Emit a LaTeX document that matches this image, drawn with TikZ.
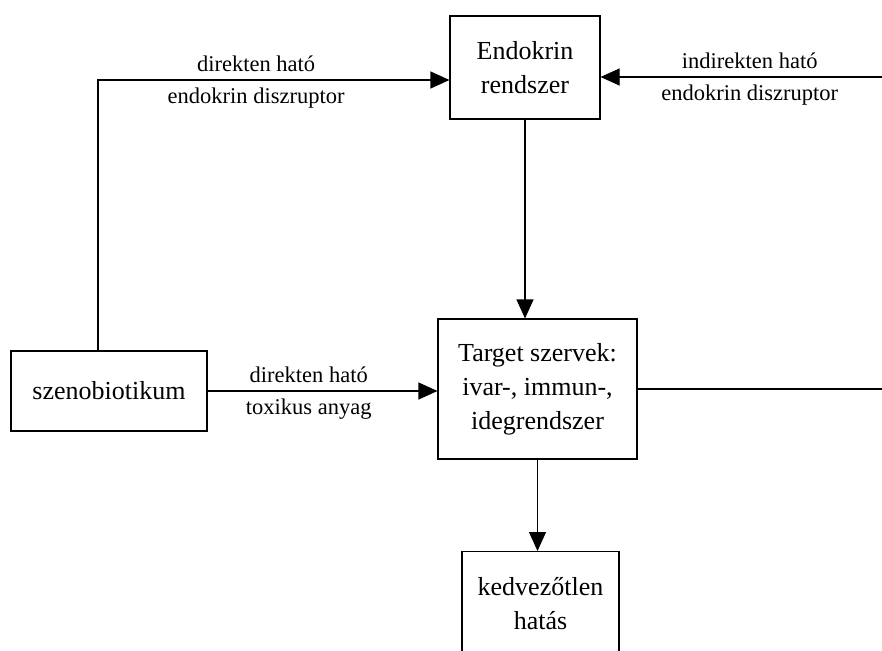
\documentclass[tikz,border=0pt]{standalone}
\usepackage{fontspec}
\setmainfont{Liberation Serif}
\usetikzlibrary{arrows.meta}
\begin{document}
\begin{tikzpicture}[x=1pt,y=-1pt,line width=1.1pt,
	box/.style={draw,align=center,inner sep=0pt,font=\fontsize{26}{34}\selectfont},
	lbl/.style={font=\fontsize{22.5}{26}\selectfont},
	arr/.style={-{Triangle[length=19pt,width=17pt]}}]
	\clip (0,0) rectangle (882,650);
	\node[box,minimum width=150pt,minimum height=103pt] (endo) at (525,67.5) {Endokrin\\rendszer};
	\node[box,minimum width=196pt,minimum height=80pt] (szeno) at (109,391) {szenobiotikum};
	\node[box,minimum width=199pt,minimum height=140pt] (target) at (537.5,389) {Target szervek:\\ivar-, immun-,\\idegrendszer};
	\node[box,minimum width=157pt,minimum height=104pt,anchor=north] (kedv) at (540.5,551) {kedvezőtlen\\hatás};
	\coordinate (bend) at (98,80);
	\coordinate (rin) at (882,77);
	\coordinate (rout) at (882,389);
	\draw[arr] (szeno.north -| bend) -- (bend) -- node[lbl,above=4pt,pos=.45] {direkten ható} node[lbl,below=4pt,pos=.45] {endokrin diszruptor} (bend -| endo.west);
	\draw[arr] (rin) -- node[lbl,above=4pt,pos=.47] {indirekten ható} node[lbl,below=4pt,pos=.47] {endokrin diszruptor} (rin -| endo.east);
	\draw[arr] (szeno.east) -- node[lbl,above=4pt,pos=.44] {direkten ható} node[lbl,below=4pt,pos=.44] {toxikus anyag} (szeno.east -| target.west);
	\draw[arr] (endo.south) -- (endo.south |- target.north);
	\draw (target.east) -- (rout);
	\draw[arr] (target.south) -- (target.south |- kedv.north);
\end{tikzpicture}
\end{document}
